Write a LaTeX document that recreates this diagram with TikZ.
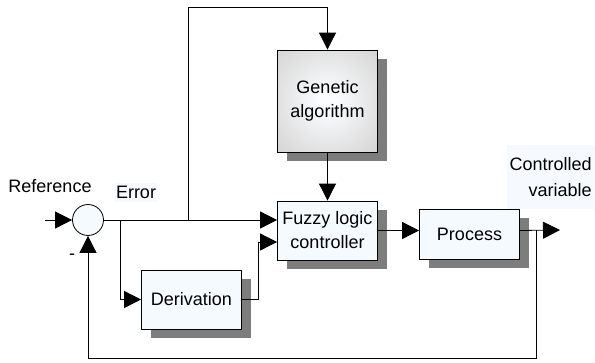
\documentclass[tikz,border=0pt]{standalone}
\usepackage{fontspec}
\setmainfont{Liberation Sans}
\usetikzlibrary{arrows.meta,shadows,positioning}

\definecolor{boxfill}{RGB}{245,250,255}
\definecolor{labelfill}{RGB}{246,250,255}
\definecolor{shadowgray}{RGB}{125,125,125}
\definecolor{gacenter}{RGB}{250,252,255}
\definecolor{gamid}{RGB}{225,225,225}
\definecolor{gaedge}{RGB}{196,196,196}
\pgfdeclareradialshading{gashade}{\pgfpoint{0bp}{0bp}}{color(0bp)=(gacenter); color(4bp)=(gacenter); color(25bp)=(gamid); color(50bp)=(gaedge); color(75bp)=(gaedge)}

\begin{document}
\begin{tikzpicture}[x=1pt,y=-1pt,line width=0.8pt,>={Triangle[length=17pt,width=17pt]},
    font=\fontsize{18}{24}\selectfont]
       \tikzstyle{block}=[draw,fill=boxfill,minimum width=100pt,align=center,
         drop shadow={shadow xshift=9pt,shadow yshift=-9pt,fill=shadowgray,opacity=1}]

       \useasboundingbox (0,0) rectangle (595,362);

       \node[circle,draw,fill=boxfill,minimum size=31pt,inner sep=0pt] (sum) at (88,220) {};
       \node[block,minimum height=59pt] (deriv) at (191.5,299.5) {Derivation};
       \node[block,minimum height=59pt] (fuzzy) at (327.5,230.5) {Fuzzy logic\\controller};
       \node[block,minimum height=50pt] (proc)  at (469.5,234) {Process};
       \node[block,minimum height=102pt,shade,shading=gashade] (ga) at (327.5,101) {Genetic\\algorithm};

       \node (ref)   at (50,186.5) {Reference};
       \node[fill=labelfill,inner xsep=1pt,inner ysep=3pt] (err) at (136,192.5) {Error};
       \node (minus) at (72,257) {-};
       \node[fill=labelfill,align=right,anchor=north east,inner xsep=3pt,inner ysep=12pt] (cv)
         at (595,145) {Controlled\\[2pt]variable};

       \coordinate (in)  at (45,220);
       \coordinate (e1)  at (120,220);
       \coordinate (e2)  at (188,220);
       \coordinate (top) at (188,7);
       \coordinate (d1)  at (258,242);
       \coordinate (b1)  at (536,230);
       \coordinate (out) at (560,230);
       \coordinate (fb)  at (536,358);

       \draw[->] (in) -- (sum.west);
       \draw[->] (sum.east) -- (fuzzy.west |- sum.east);
       \draw[->] (e1) |- (deriv.west);
       \draw[->] (deriv.east) -| (d1) -- (fuzzy.west |- d1);
       \draw[->] (e2) -- (top) -| (ga.north);
       \draw[->] (ga.south) -- (fuzzy.north);
       \draw[->] (fuzzy.east) -- (proc.west |- fuzzy.east);
       \draw[->] (proc.east |- fuzzy.east) -- (out);
       \draw[->] (b1) -- (fb) -| (sum.south);
     \end{tikzpicture}
\end{document}
